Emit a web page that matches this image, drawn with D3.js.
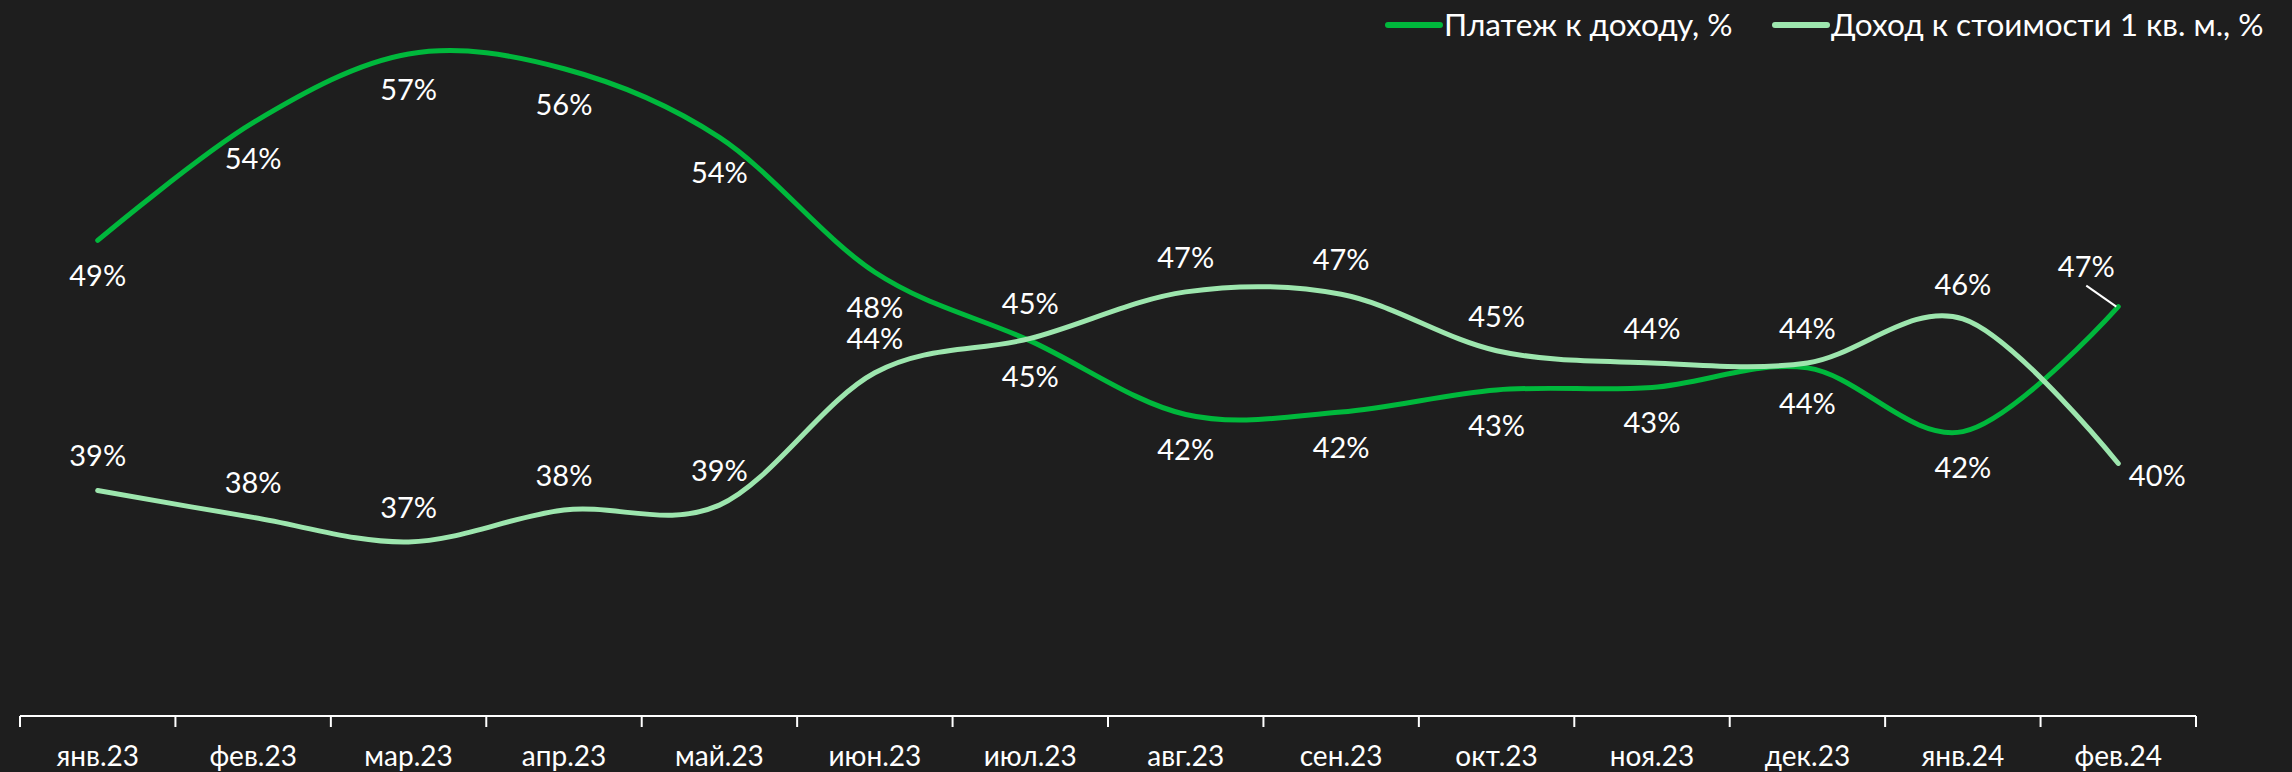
<!DOCTYPE html>
<html lang="ru">

<head>
  <meta charset="UTF-8">
  <title>Платеж к доходу</title>
  <style>
    body { margin: 0; background: #1e1e1e; }
    text { font-family: Lato, "Noto Sans", sans-serif; fill: #ffffff; }
  </style>
</head>

<body>
  <svg id="svg" width="2292" height="772"></svg>

  <script src="https://d3js.org/d3.v7.min.js"></script>
  <script>
    const months = ['янв.23', 'фев.23', 'мар.23', 'апр.23', 'май.23', 'июн.23', 'июл.23',
      'авг.23', 'сен.23', 'окт.23', 'ноя.23', 'дек.23', 'янв.24', 'фев.24']

    // Платеж к доходу, %
    const payment = [49.4, 54.2, 57.0, 56.4, 53.6, 48.1, 45.3, 42.3, 42.4, 43.3, 43.4, 44.2, 41.6, 46.7]
    // Доход к стоимости 1 кв. м., %
    const income = [39.2, 38.1, 37.1, 38.4, 38.6, 44.0, 45.4, 47.3, 47.2, 44.9, 44.4, 44.4, 46.2, 40.3]

    // where each data label sits relative to its point
    const paymentPos = ['below', 'below', 'below', 'below', 'below', 'below', 'below',
      'below', 'below', 'below', 'below', 'below', 'below', 'leader']
    const incomePos = ['above', 'above', 'above', 'above', 'above', 'above', 'above',
      'above', 'above', 'above', 'above', 'above', 'above', 'right']

    const series = [
      { name: 'Платеж к доходу, %', values: payment, pos: paymentPos, color: '#00b83c' },
      { name: 'Доход к стоимости 1 кв. м., %', values: income, pos: incomePos, color: '#9de6ae' }
    ]

    const svg = d3.select('#svg')

    const x = d3.scaleBand()
      .domain(months)
      .range([20, 2196])

    const y = d3.scaleLinear()
      .domain([30, 59])
      .range([716, 5])

    const cx = m => x(m) + x.bandwidth() / 2

    // x axis: labels centred in bands, ticks on band edges
    const axis = svg.append('g').attr('transform', 'translate(0,716)')
    axis.append('line')
      .attr('x1', x.range()[0]).attr('x2', x.range()[1])
      .attr('stroke', '#ffffff').attr('stroke-width', 2)
    axis.selectAll('.tick-mark')
      .data(months.map(m => x(m)).concat([x.range()[1]]))
      .enter()
      .append('line')
      .attr('x1', d => d).attr('x2', d => d)
      .attr('y1', 0).attr('y2', 11)
      .attr('stroke', '#ffffff').attr('stroke-width', 2)
    axis.selectAll('.month')
      .data(months)
      .enter()
      .append('text')
      .attr('x', cx)
      .attr('y', 50)
      .attr('text-anchor', 'middle')
      .attr('font-size', 28)
      .text(d => d)

    const line = d3.line()
      .x((d, i) => cx(months[i]))
      .y(d => y(d))
      .curve(d3.curveCardinal.tension(0))

    series.forEach(s => {
      svg.append('path')
        .datum(s.values)
        .attr('d', line)
        .attr('fill', 'none')
        .attr('stroke', s.color)
        .attr('stroke-width', 5)
        .attr('stroke-linecap', 'round')
    })

    // data labels
    series.forEach(s => {
      s.values.forEach((v, i) => {
        const px = cx(months[i])
        const py = y(v)
        let tx = px, ty = py
        if (s.pos[i] === 'below') ty = py + 46
        if (s.pos[i] === 'above') ty = py - 24
        if (s.pos[i] === 'right') { tx = px + 39; ty = py + 23 }
        if (s.pos[i] === 'leader') {
          tx = px - 32; ty = py - 30
          svg.append('line')
            .attr('x1', px - 32).attr('y1', py - 21)
            .attr('x2', px - 2).attr('y2', py)
            .attr('stroke', '#ffffff').attr('stroke-width', 2)
        }
        svg.append('text')
          .attr('x', tx)
          .attr('y', ty)
          .attr('text-anchor', 'middle')
          .attr('font-size', 29)
          .text(Math.round(v) + '%')
      })
    })

    // legend
    const legend = svg.append('g').attr('transform', 'translate(1388,25)')
    const legendX = [0, 387]
    series.forEach((s, i) => {
      const g = legend.append('g').attr('transform', `translate(${legendX[i]},0)`)
      g.append('line')
        .attr('x1', 0).attr('x2', 52)
        .attr('stroke', s.color).attr('stroke-width', 6)
        .attr('stroke-linecap', 'round')
      g.append('text')
        .attr('x', 56).attr('y', 11)
        .attr('font-size', 31.5)
        .text(s.name)
    })
  </script>
</body>

</html>
